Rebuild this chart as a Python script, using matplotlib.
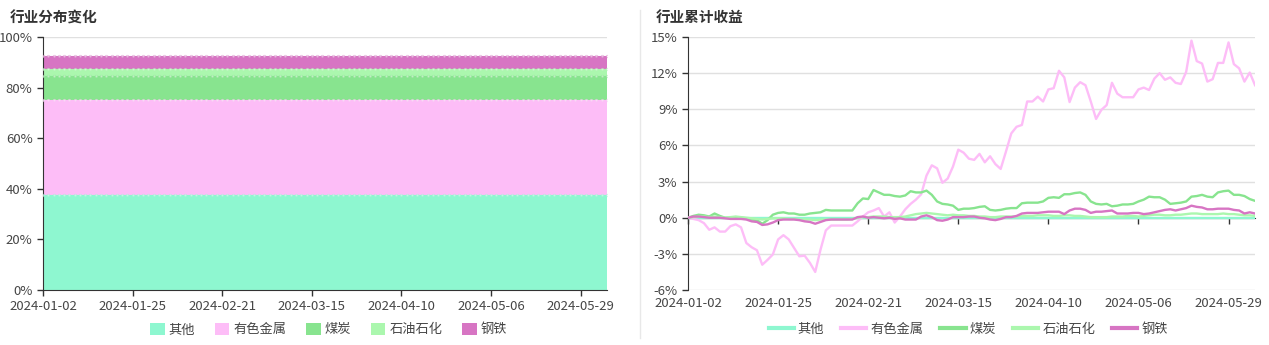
import matplotlib
matplotlib.use('Agg')
import numpy as np
import matplotlib.pyplot as plt
from matplotlib.patches import Patch
from matplotlib.lines import Line2D
from matplotlib.ticker import FuncFormatter

plt.rcParams['font.family'] = ['Noto Sans CJK SC', 'DejaVu Sans']

# ── Data ──────────────────────────────────────────────────────────────────────
industries = ['其他', '有色金属', '煤炭', '石油石化', '钢铁']
colors = ['#8ef7d0', '#fdbdf7', '#88e48f', '#abf7ae', '#d775c3']

date_ticks = ['2024-01-02', '2024-01-25', '2024-02-21', '2024-03-15',
              '2024-04-10', '2024-05-06', '2024-05-29']
TICK_STEP = 17
N_DAYS = 108

# portfolio weight per industry (%), unchanged over the period
weights = [37.5, 37.6, 9.6, 2.6, 5.3]

# cumulative return per industry (%)
ret_other = [0.0] * N_DAYS
ret_metal = [
    0, -0.1, -0.2, -0.45, -1.0, -0.8, -1.15, -1.15, -0.7, -0.55,
    -0.8, -2.1, -2.45, -2.7, -3.9, -3.5, -3.05, -1.8, -1.45, -1.8,
    -2.5, -3.2, -3.15, -3.75, -4.5, -2.65, -1.05, -0.65, -0.65, -0.65,
    -0.65, -0.65, -0.3, 0.1, 0.45, 0.6, 0.8, 0.1, 0.45, -0.4,
    0.1, 0.7, 1.15, 1.5, 1.95, 3.5, 4.35, 4.1, 2.9, 3.25,
    4.25, 5.65, 5.4, 4.9, 4.8, 5.3, 4.6, 5.1, 4.45, 4.05,
    5.5, 7.0, 7.55, 7.7, 9.65, 9.65, 10.05, 9.65, 10.65, 10.75,
    12.2, 11.65, 9.6, 10.8, 11.25, 11.0, 9.65, 8.2, 8.95, 9.35,
    11.2, 10.3, 10.0, 10.0, 10.0, 10.65, 10.8, 10.6, 11.55, 12.0,
    11.45, 11.65, 11.2, 11.1, 12.1, 14.7, 13.0, 12.8, 11.3, 11.5,
    12.85, 12.85, 14.55, 12.75, 12.4, 11.3, 12.05, 11.0]
ret_coal = [
    0, 0.15, 0.25, 0.2, 0.1, 0.35, 0.15, 0, 0, 0.05,
    0, -0.05, -0.15, -0.2, -0.5, -0.2, 0.25, 0.4, 0.45, 0.35,
    0.35, 0.25, 0.25, 0.35, 0.4, 0.45, 0.65, 0.6, 0.6, 0.6,
    0.6, 0.6, 1.2, 1.6, 1.55, 2.3, 2.1, 1.9, 1.9, 1.8,
    1.75, 1.85, 2.2, 2.1, 2.1, 2.25, 1.9, 1.35, 1.15, 1.1,
    1.0, 0.65, 0.75, 0.75, 0.8, 0.9, 0.95, 0.65, 0.6, 0.65,
    0.75, 0.8, 0.8, 1.2, 1.25, 1.25, 1.25, 1.35, 1.65, 1.7,
    1.65, 1.95, 1.95, 2.05, 2.1, 1.9, 1.35, 1.15, 1.1, 1.15,
    0.95, 1.0, 1.1, 1.1, 1.15, 1.35, 1.5, 1.75, 1.7, 1.7,
    1.5, 1.15, 1.2, 1.25, 1.35, 1.75, 1.8, 1.9, 1.75, 1.7,
    2.1, 2.2, 2.25, 1.9, 1.9, 1.8, 1.55, 1.4]
ret_oil = [
    0, 0.05, 0.1, 0.1, 0.05, 0.1, 0.05, 0, 0.05, 0.1,
    0.05, 0, -0.05, -0.1, -0.15, -0.1, -0.05, -0.05, -0.05, -0.1,
    -0.1, -0.15, -0.15, -0.15, -0.2, -0.15, -0.15, -0.15, -0.15, -0.15,
    -0.15, -0.1, 0, 0.05, 0.05, 0.1, 0.1, 0.1, 0.05, 0.05,
    0.05, 0.1, 0.2, 0.3, 0.35, 0.4, 0.35, 0.3, 0.25, 0.2,
    0.25, 0.2, 0.2, 0.15, 0.15, 0.1, 0.1, 0.05, 0.05, 0.1,
    0.1, 0.1, 0.1, 0.15, 0.15, 0.15, 0.2, 0.2, 0.2, 0.15,
    0.15, 0.2, 0.2, 0.15, 0.15, 0.1, 0.05, 0.05, 0.05, 0.05,
    0.1, 0.1, 0.1, 0.15, 0.15, 0.1, 0.15, 0.2, 0.25, 0.25,
    0.2, 0.2, 0.25, 0.25, 0.3, 0.35, 0.35, 0.3, 0.3, 0.3,
    0.3, 0.35, 0.3, 0.3, 0.25, 0.2, 0.2, 0.15]
ret_steel = [
    0, 0.1, 0.1, 0.05, 0, 0, 0, -0.05, -0.1, -0.1,
    -0.1, -0.15, -0.3, -0.35, -0.6, -0.55, -0.4, -0.2, -0.15, -0.15,
    -0.15, -0.2, -0.3, -0.35, -0.5, -0.35, -0.2, -0.15, -0.15, -0.15,
    -0.15, -0.15, 0.05, 0.1, 0, 0.05, 0, -0.05, 0, -0.1,
    -0.05, -0.15, -0.15, -0.15, 0.1, 0.2, 0.05, -0.2, -0.25, -0.15,
    0.05, 0.05, 0.05, 0.1, 0.1, 0, -0.05, -0.15, -0.2, -0.1,
    0.05, 0.05, 0.15, 0.35, 0.4, 0.4, 0.4, 0.45, 0.5, 0.5,
    0.5, 0.3, 0.6, 0.75, 0.75, 0.65, 0.4, 0.5, 0.5, 0.55,
    0.6, 0.35, 0.35, 0.35, 0.4, 0.4, 0.3, 0.35, 0.45, 0.55,
    0.65, 0.7, 0.6, 0.7, 0.8, 1.0, 0.9, 0.85, 0.7, 0.7,
    0.75, 0.75, 0.75, 0.65, 0.6, 0.35, 0.45, 0.35]
returns = [ret_other, ret_metal, ret_coal, ret_oil, ret_steel]

# ── Style ─────────────────────────────────────────────────────────────────────
AXIS_C = '#333333'
GRID_C = '#e0e0e0'
TXT_C = '#464646'
FS = 9.5
x = np.arange(N_DAYS)
tick_pos = np.arange(len(date_ticks)) * TICK_STEP


def style_axis(ax):
    ax.set_xlim(0, N_DAYS - 1)
    for side in ('top', 'right'):
        ax.spines[side].set_visible(False)
    ax.spines['left'].set_color(AXIS_C)
    ax.spines['bottom'].set_color(AXIS_C)
    ax.tick_params(axis='both', colors=AXIS_C, labelcolor=TXT_C,
                   labelsize=FS, length=4, width=1)
    ax.grid(True, axis='y', color=GRID_C, lw=1)
    ax.set_axisbelow(True)


fig = plt.figure(figsize=(12.69, 3.45), dpi=100)
fig.patch.set_facecolor('white')

# ── Left: stacked weights ─────────────────────────────────────────────────────
ax1 = fig.add_axes([0.0339, 0.1594, 0.4444, 0.7333])
style_axis(ax1)
base = np.zeros(N_DAYS)
for name, w, c in zip(industries, weights, colors):
    top = base + np.full(N_DAYS, w)
    ax1.fill_between(x, base, top, color=c, lw=0, zorder=2)
    # series line with small point symbols along the upper edge
    ax1.plot(x, top, color=c, lw=0.8, marker='o', ms=1.8,
             mfc='#f4f4f4', mec=c, mew=0.5, alpha=0.55, zorder=3)
    base = top
ax1.set_ylim(0, 100)
ax1.set_yticks(np.arange(0, 101, 20))
ax1.yaxis.set_major_formatter(FuncFormatter(lambda v, p: f'{v:.0f}%'))
ax1.set_xticks(tick_pos)
ax1.set_xticklabels(date_ticks)
ax1.spines['bottom'].set_zorder(4)

fig.text(0.008, 0.95, '行业分布变化', fontsize=10.5, fontweight='bold',
         color='#333333', va='center')

handles1 = [Patch(facecolor=c, edgecolor='none', label=n)
            for n, c in zip(industries, colors)]
fig.legend(handles=handles1, loc='center', bbox_to_anchor=(0.259, 0.045),
           ncol=5, frameon=False, fontsize=FS, handlelength=1.1,
           handleheight=1.1, handletextpad=0.3, columnspacing=1.5,
           labelcolor=TXT_C)

# ── Right: cumulative returns ─────────────────────────────────────────────────
ax2 = fig.add_axes([0.5422, 0.1594, 0.4468, 0.7333])
style_axis(ax2)
for name, r, c in zip(industries, returns, colors):
    ax2.plot(x, r, color=c, lw=1.7, label=name, zorder=3)
ax2.set_ylim(-6, 15)
ax2.set_yticks(np.arange(-6, 16, 3))
ax2.yaxis.set_major_formatter(FuncFormatter(lambda v, p: f'{v:.0f}%'))
# category axis sits on the zero line, labels stay at the bottom
ax2.spines['bottom'].set_position(('data', 0))
ax2.set_xticks(tick_pos)
ax2.tick_params(axis='x', labelbottom=False)
sec = ax2.secondary_xaxis('bottom')
sec.set_xticks(tick_pos)
sec.set_xticklabels(date_ticks)
sec.tick_params(length=0, labelsize=FS, labelcolor=TXT_C, pad=5)
sec.spines['bottom'].set_visible(False)

fig.text(0.517, 0.95, '行业累计收益', fontsize=10.5, fontweight='bold',
         color='#333333', va='center')

handles2 = [Line2D([0], [0], color=c, lw=3, label=n)
            for n, c in zip(industries, colors)]
fig.legend(handles=handles2, loc='center', bbox_to_anchor=(0.763, 0.045),
           ncol=5, frameon=False, fontsize=FS, handlelength=1.9,
           handletextpad=0.3, columnspacing=1.3, labelcolor=TXT_C)

# divider between the two panels
fig.add_artist(Line2D([0.5043, 0.5043], [0.02, 0.97], color='#e8e8e8', lw=1))

fig.savefig('out.png', dpi=100, facecolor='white')
